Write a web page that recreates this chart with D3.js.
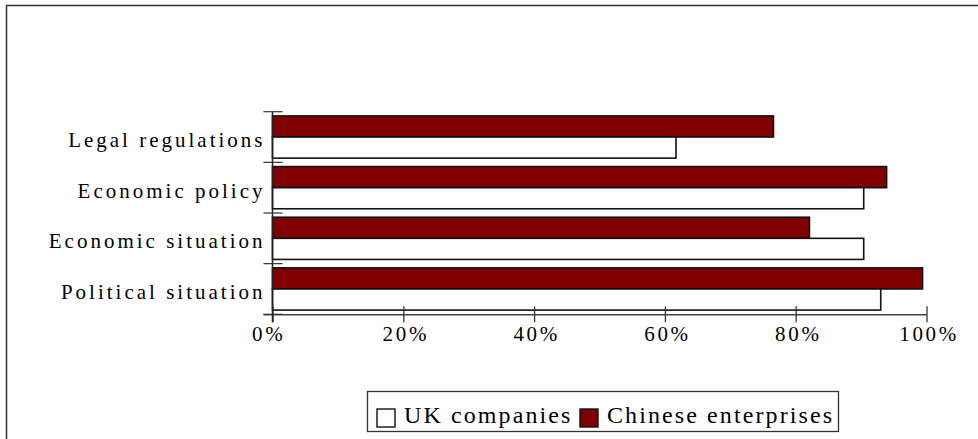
<!DOCTYPE html>
<html>
<head>
<meta charset="utf-8">
<script src="https://cdn.jsdelivr.net/npm/d3@7"></script>
<style>
  html, body { margin: 0; padding: 0; background: #fff; }
  svg { display: block; }
</style>
</head>
<body>
<svg id="chart" width="978" height="439"></svg>
<script>
// Factors affecting perceptions: share of respondents (fraction of 1)
const categories = ["Legal regulations", "Economic policy", "Economic situation", "Political situation"];
const seriesNames = ["Chinese enterprises", "UK companies"];
const chineseValues = [0.766, 0.939, 0.821, 0.994];
const ukValues = [0.617, 0.904, 0.904, 0.930];
const tickValues = [0, 0.2, 0.4, 0.6, 0.8, 1.0];
const tickLabels = ["0%", "20%", "40%", "60%", "80%", "100%"];
const legendOrder = ["UK companies", "Chinese enterprises"];

const colors = { "UK companies": "#ffffff", "Chinese enterprises": "#800000" };
const valuesBySeries = { "UK companies": ukValues, "Chinese enterprises": chineseValues };
const FONT = "'Liberation Serif', 'Times New Roman', Tinos, 'DejaVu Serif', serif";

const svg = d3.select("#chart");

// Outer frame (open to the right and bottom)
svg.append("path")
  .attr("d", "M6.5,440 L6.5,5.5 L980,5.5")
  .attr("fill", "none")
  .attr("stroke", "#333")
  .attr("stroke-width", 1.5);

const x = d3.scaleLinear().domain([0, 1]).range([272.5, 926.5]);
const y = d3.scaleBand().domain(categories).range([111.7, 314.3]).padding(0);
const ySub = d3.scaleBand().domain(seriesNames).range([0, y.bandwidth()]).paddingOuter(0.2).paddingInner(0);

// Bars
const groups = svg.append("g").selectAll("g")
  .data(categories)
  .join("g")
  .attr("transform", d => `translate(0,${y(d)})`);

groups.selectAll("rect")
  .data((d, i) => seriesNames.map(s => ({ series: s, value: valuesBySeries[s][i] })))
  .join("rect")
  .attr("x", x(0))
  .attr("y", d => ySub(d.series))
  .attr("width", d => x(d.value) - x(0))
  .attr("height", ySub.bandwidth())
  .attr("fill", d => colors[d.series])
  .attr("stroke", "#111")
  .attr("stroke-width", 1.6);

// X axis with crossing tick marks
const xAxis = svg.append("g")
  .attr("transform", `translate(0,${y.range()[1]})`)
  .call(d3.axisBottom(x).tickValues(tickValues).tickSize(8).tickSizeOuter(0)
    .tickFormat((d, i) => tickLabels[i]));
xAxis.attr("font-family", null).attr("font-size", null);
xAxis.select(".domain")
  .attr("d", `M${x(0) - 9},0.5H${x(1)}`)
  .attr("stroke", "#444")
  .attr("stroke-width", 1.5);
xAxis.selectAll(".tick line")
  .attr("y1", -8).attr("y2", 8)
  .attr("stroke", "#333").attr("stroke-width", 1.3);
xAxis.selectAll(".tick text")
  .attr("y", 27).attr("dy", 0)
  .attr("dx", (d, i) => i === 0 ? "-0.2em" : "0.1em")
  .style("font-family", FONT)
  .style("font-size", "21px")
  .style("letter-spacing", "2.7px")
  .attr("fill", "#000");

// Y axis: line, tick marks at band boundaries, labels centred in bands
const yAxis = svg.append("g");
yAxis.append("line")
  .attr("x1", x(0)).attr("x2", x(0))
  .attr("y1", y.range()[0]).attr("y2", y.range()[1] + 8)
  .attr("stroke", "#222").attr("stroke-width", 1.5);
const boundaries = categories.map(c => y(c)).concat([y.range()[1]]);
yAxis.selectAll("line.tick")
  .data(boundaries)
  .join("line")
  .attr("class", "tick")
  .attr("x1", x(0) - 9).attr("x2", x(0) + 10)
  .attr("y1", d => d).attr("y2", d => d)
  .attr("stroke", "#333").attr("stroke-width", 1.2);
yAxis.selectAll("text")
  .data(categories)
  .join("text")
  .attr("x", x(0) - 7)
  .attr("y", d => y(d) + y.bandwidth() / 2)
  .attr("dy", "0.47em")
  .attr("text-anchor", "end")
  .style("font-family", FONT)
  .style("font-size", "21px")
  .style("letter-spacing", "3px")
  .attr("fill", "#000")
  .text(d => d);

// Legend
const legend = svg.append("g");
legend.append("rect")
  .attr("x", 367.5).attr("y", 391.5)
  .attr("width", 471).attr("height", 40)
  .attr("fill", "#fff").attr("stroke", "#333").attr("stroke-width", 1.3);
const legendX = [377, 580];
const items = legend.selectAll("g.item")
  .data(legendOrder)
  .join("g")
  .attr("class", "item")
  .attr("transform", (d, i) => `translate(${legendX[i]},0)`);
items.append("rect")
  .attr("x", 0).attr("y", 409)
  .attr("width", 18).attr("height", 18)
  .attr("fill", d => colors[d])
  .attr("stroke", "#111").attr("stroke-width", 1.4);
items.append("text")
  .attr("x", 27).attr("y", 422.5)
  .style("font-family", FONT)
  .style("font-size", "24px")
  .style("letter-spacing", "2.1px")
  .attr("fill", "#000")
  .text(d => d);
</script>
</body>
</html>
